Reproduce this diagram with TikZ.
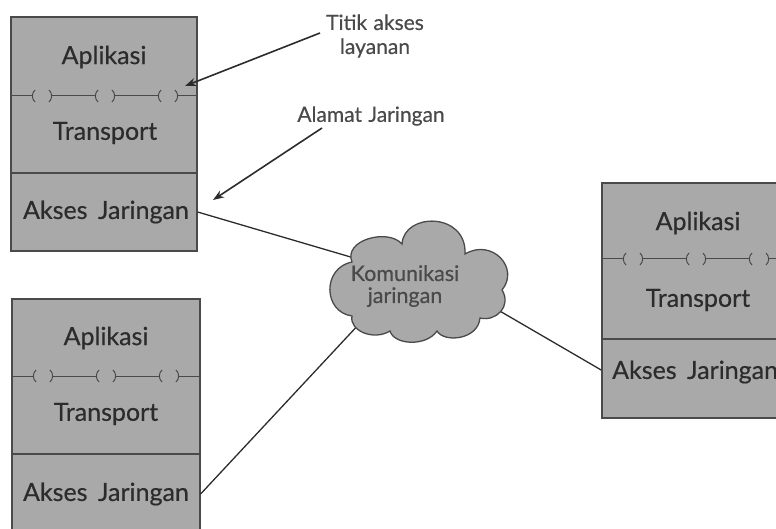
\documentclass[tikz,border=0pt]{standalone}
\usepackage{fontspec}
\setmainfont{Lato}
\newfontfamily\layfont{Lato}[FakeBold=0.45]
\usetikzlibrary{arrows.meta}
\definecolor{boxgray}{HTML}{A9A9A9}
\definecolor{edgegray}{HTML}{4A4A4A}
\definecolor{txtgray}{HTML}{2C2C2C}
\definecolor{lblgray}{HTML}{4A4A4A}
\newcommand\svcline[3]{%
  \draw[svc] (#1,#3) -- ({#1+21.5},#3);
  \foreach \k in {0,63,126}{%
    \draw[svc] ({#1+24+\k},{#3-6}) .. controls ({#1+20.5+\k},{#3-3}) and ({#1+20.5+\k},{#3+3}) .. ({#1+24+\k},{#3+6});
    \draw[svc] ({#1+38+\k},{#3-6}) .. controls ({#1+41.5+\k},{#3-3}) and ({#1+41.5+\k},{#3+3}) .. ({#1+38+\k},{#3+6});
  }
  \draw[svc] ({#1+40.5},#3) -- ({#1+84.5},#3);
  \draw[svc] ({#1+103.5},#3) -- ({#1+147.5},#3);
  \draw[svc] ({#1+166.5},#3) -- (#2,#3);
}
\newcommand\widesp{\spaceskip=0.42em plus 0.1em\relax}
\newcommand\midsp{\spaceskip=0.3em plus 0.1em\relax}
\begin{document}
\begin{tikzpicture}[x=1pt,y=-1pt,
  layer/.style={draw=edgegray, line width=1.2pt, fill=boxgray, inner sep=0pt},
  lay/.style={text=txtgray, font=\layfont\fontsize{25}{29}\selectfont, execute at begin node=\widesp, inner sep=0pt},
  lbl/.style={text=lblgray, font=\layfont\fontsize{21}{24}\selectfont, execute at begin node=\midsp, align=center, inner sep=0pt},
  svc/.style={draw=edgegray, line width=1pt},
  link/.style={draw=txtgray, line width=1.3pt},
  pointer/.style={draw=txtgray, line width=1.6pt, -{Stealth[length=11pt,width=8pt]}},
  cloudpath/.style={draw=edgegray, line width=1.3pt, fill=boxgray}
]
\useasboundingbox (0,0) rectangle (776,529);
\clip (0,0) rectangle (776,529);

% box 1 (top left)
\node[layer, minimum width=186pt, minimum height=156pt] (up1) at (104,95) {};
\node[layer, minimum width=186pt, minimum height=78pt] (ak1) at (104,212) {};
\node[lay] (apl1) at (104,57) {Aplikasi};
\node[lay] (tr1) at (105,133) {Transport};
\node[lay] (akt1) at (106,212) {Akses Jaringan};
\svcline{11}{197}{96}

% box 3 (bottom left)
\node[layer, minimum width=188pt, minimum height=155pt] (up3) at (106,376.5) {};
\node[layer, minimum width=188pt, minimum height=80pt] (ak3) at (106,494) {};
\node[lay] (apl3) at (106,338) {Aplikasi};
\node[lay] (tr3) at (106,414) {Transport};
\node[lay] (akt3) at (106,494) {Akses Jaringan};
\svcline{12}{200}{376}

% box 2 (right)
\node[layer, minimum width=190pt, minimum height=156pt] (up2) at (697,261) {};
\node[layer, minimum width=190pt, minimum height=79pt] (ak2) at (697,378.5) {};
\node[lay] (apl2) at (698,223) {Aplikasi};
\node[lay] (tr2) at (698,300) {Transport};
\node[lay, anchor=west] (akt2) at (612,372) {Akses Jaringan};
\svcline{602}{792}{259}

% attachment points on the cloud border
\coordinate (netA) at (354,258);
\coordinate (netB) at (361,322);
\coordinate (netC) at (486,303);

% links
\draw[link] (ak1.east) -- (netA);
\draw[link] (ak3.east) -- (netB);
\draw[link] (netC) -- (ak2.175);

% cloud
\path[cloudpath] (352,262)
  .. controls (343,240) and (388,228) .. (402,244)
  .. controls (404,212) and (467,212) .. (465,254)
  .. controls (492,238) and (520,268) .. (502,290)
  .. controls (512,306) and (496,322) .. (480,318)
  .. controls (478,340) and (444,343) .. (437,331)
  .. controls (426,347) and (394,345) .. (390,331)
  .. controls (374,341) and (349,331) .. (352,316)
  .. controls (323,312) and (322,268) .. (352,262) -- cycle;
\node[lbl, font=\layfont\fontsize{21.5}{22}\selectfont] (net) at (405,286) {Komunikasi\\jaringan};

% labels and pointers
\node[lbl] (sap) at (375,36) {Titik akses\\layanan};
\node[lbl] (addr) at (371,116) {Alamat Jaringan};
\coordinate (sapend) at (185,86);
\coordinate (addrend) at (213,200);
\coordinate (sapstart) at (320,33);
\coordinate (addrstart) at (322,128);
\draw[pointer] (sapstart) -- (sapend);
\draw[pointer] (addrstart) -- (addrend);
\end{tikzpicture}
\end{document}
